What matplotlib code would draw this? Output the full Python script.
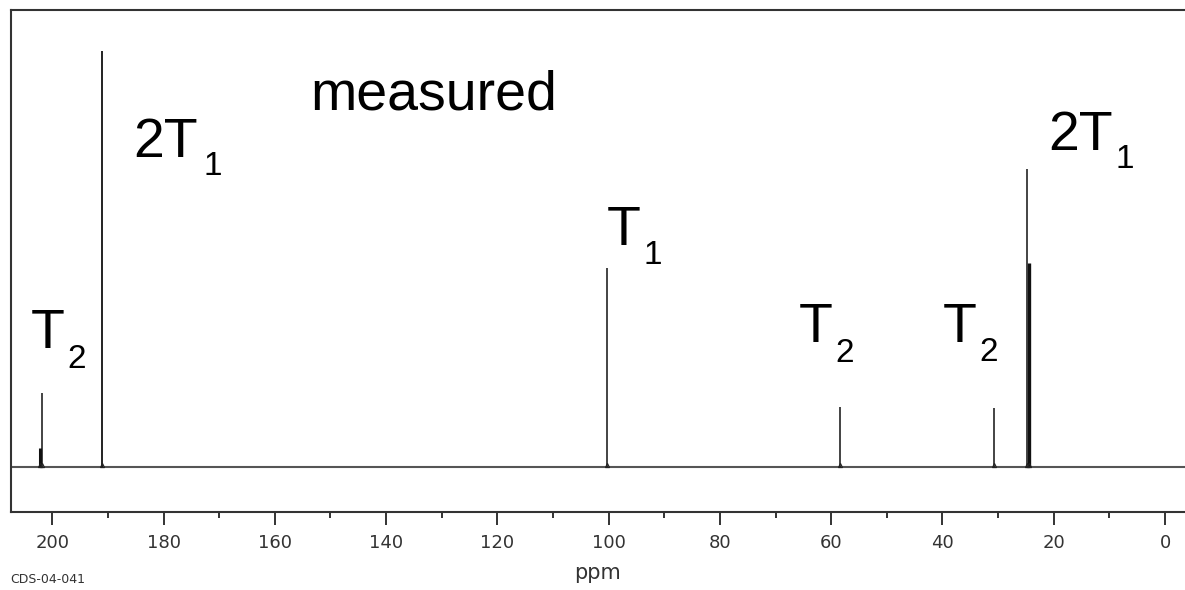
import matplotlib
matplotlib.use("Agg")
import matplotlib.pyplot as plt
from matplotlib.ticker import FixedLocator

# ---- data ----
peak_ppm = [202.2, 201.8, 191.1, 100.35, 58.4, 30.7, 24.8, 24.5]
peak_intensity = [19, 74, 416, 199, 60, 59, 298, 204]
major_ticks = [0, 20, 40, 60, 80, 100, 120, 140, 160, 180, 200]
minor_ticks = [10, 30, 50, 70, 90, 110, 130, 150, 170, 190]
label_main = ["T", "2T", "T", "T", "T", "2T"]
label_sub = ["2", "1", "1", "2", "2", "1"]
title_text = "measured"
xlabel_text = "ppm"
sample_id = "CDS-04-041"

# ---- styles / layout ----
W, H = 1185, 590
peak_lw = [2.2, 1.1, 1.3, 1.1, 1.1, 1.1, 1.1, 2.4]
# (left ink x, baseline y) in image pixels for main label and subscript
label_main_pos = [(31, 348), (133, 157), (607, 245), (799, 342), (943, 342), (1048, 150)]
label_sub_pos = [(67, 368), (203, 175), (644, 264), (835, 362), (979, 361), (1116, 168)]

fig = plt.figure(figsize=(W / 100, H / 100), dpi=100)
ax = fig.add_axes([11 / W, (H - 512.3) / H, 1 - 11 / W, (512.3 - 10) / H])

xmin, xmax = 207.42, -3.59
ax.set_xlim(xmin, xmax)
ax.set_ylim(-45.6, 456.7)

# baseline
ax.plot([xmin, xmax], [0, 0], color="#555555", lw=1.5, solid_capstyle="butt", zorder=2)
# peaks
ax.vlines(peak_ppm, 0, peak_intensity, colors="#111111", linewidths=peak_lw, zorder=3)
# small feet at base of peaks
ax.plot(peak_ppm, [1.2] * len(peak_ppm), linestyle="none", marker="^",
        markersize=3, markerfacecolor="none", markeredgecolor="#222222",
        markeredgewidth=0.8, zorder=3)

ax.spines["right"].set_visible(False)
for s in ["left", "top", "bottom"]:
    ax.spines[s].set_linewidth(1.5)
    ax.spines[s].set_color("#333333")

ax.set_yticks([])
ax.xaxis.set_major_locator(FixedLocator(major_ticks))
ax.xaxis.set_minor_locator(FixedLocator(minor_ticks))
ax.tick_params(axis="x", which="major", direction="out", length=9.5, width=1.4,
               color="#333333", labelsize=13, labelcolor="#333333", pad=6)
ax.tick_params(axis="x", which="minor", direction="out", length=4.5, width=1.4,
               color="#333333")
for lab in ax.get_xticklabels():
    lab.set_fontfamily("DejaVu Sans")

ax.set_xlabel(xlabel_text, fontsize=15, color="#333333", labelpad=8)


def px(x, y):
    return x / W, 1 - y / H


fig.text(*px(310, 110), title_text, fontsize=40, family="Liberation Sans",
         va="baseline", ha="left", color="black")
for m, s, pm, ps in zip(label_main, label_sub, label_main_pos, label_sub_pos):
    fig.text(*px(*pm), m, fontsize=40, family="Liberation Sans",
             va="baseline", ha="left", color="black")
    fig.text(*px(*ps), s, fontsize=24, family="Liberation Sans",
             va="baseline", ha="left", color="black")

fig.text(*px(10, 583), sample_id, fontsize=9, family="DejaVu Sans",
         va="baseline", ha="left", color="#333333")

fig.savefig("out.png", dpi=100)
